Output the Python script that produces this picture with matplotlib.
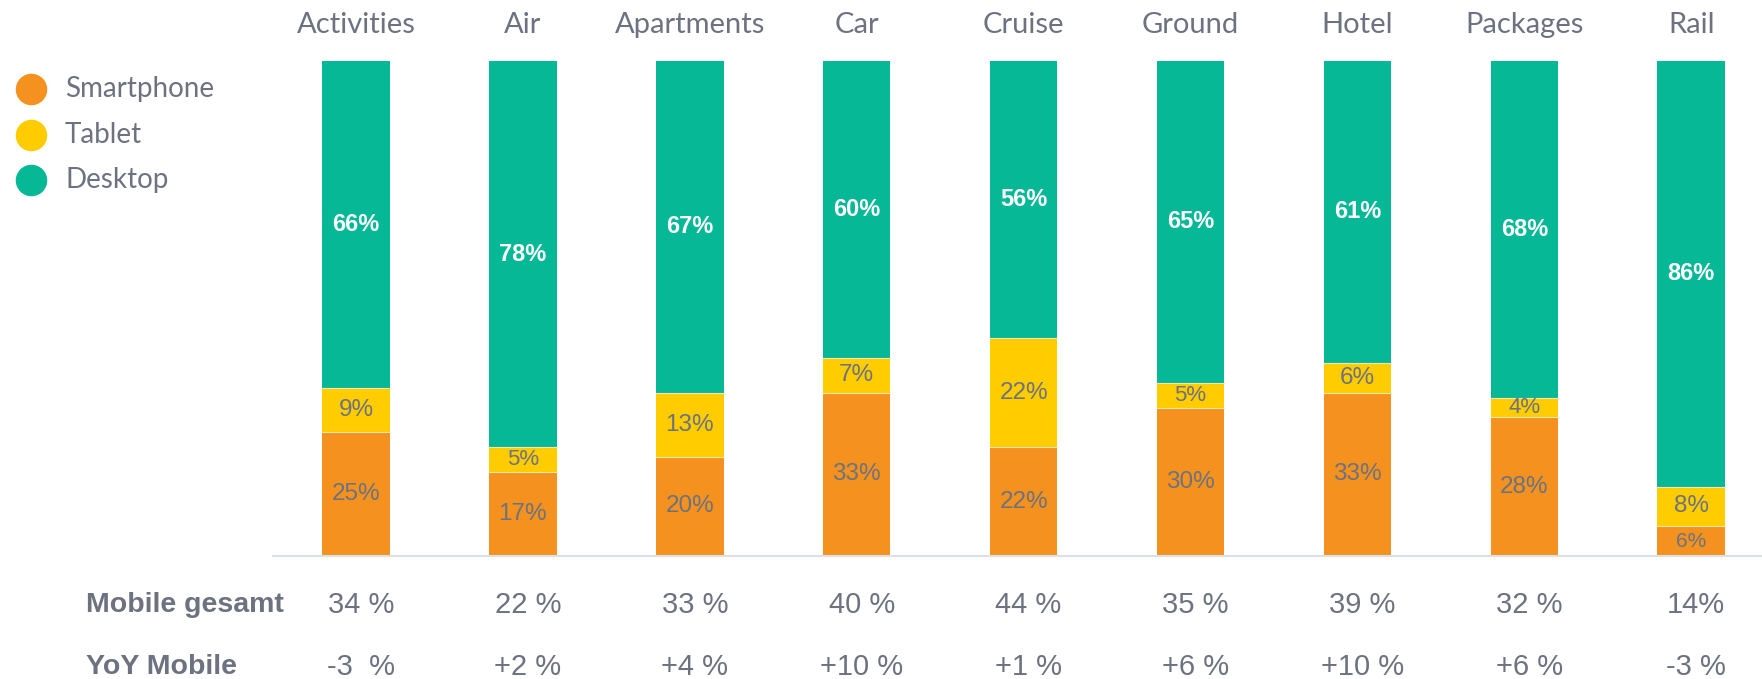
import numpy as np
import matplotlib
matplotlib.use('Agg')
import matplotlib.pyplot as plt

categories = ['Activities', 'Air', 'Apartments', 'Car', 'Cruise', 'Ground', 'Hotel', 'Packages', 'Rail']
smartphone = [25, 17, 20, 33, 22, 30, 33, 28, 6]
tablet = [9, 5, 13, 7, 22, 5, 6, 4, 8]
desktop = [66, 78, 67, 60, 56, 65, 61, 68, 86]
mobile_total = ['34 %', '22 %', '33 %', '40 %', '44 %', '35 %', '39 %', '32 %', '14%']
yoy_mobile = ['-3  %', '+2 %', '+4 %', '+10 %', '+1 %', '+6 %', '+10 %', '+6 %', '-3 %']
series_names = ['Smartphone', 'Tablet', 'Desktop']

c_orange = '#F5921F'
c_yellow = '#FFCC00'
c_green = '#06B896'
c_text = '#6C7280'
colors = [c_orange, c_yellow, c_green]

W, H = 1762, 679
fig = plt.figure(figsize=(W / 100, H / 100), dpi=100)
bottom_px, top_px = 556, 61
ax = fig.add_axes([0, (H - bottom_px) / H, 1, (bottom_px - top_px) / H])

x0, step = 356, 166.9   # pixel position of first bar centre, spacing
ax.set_xlim(-x0 / step, (W - x0) / step)
ax.set_ylim(0, 100)
ax.axis('off')

x = np.arange(len(categories))
bw = 0.404
sm = np.array(smartphone)
tb = np.array(tablet)
dk = np.array(desktop)
ax.bar(x, sm, bw, color=c_orange, edgecolor='none')
ax.bar(x, tb, bw, bottom=sm, color=c_yellow, edgecolor='none')
ax.bar(x, dk, bw, bottom=sm + tb, color=c_green, edgecolor='none')

# thin light lines between segments
for i in range(len(x)):
    for yv in (sm[i], sm[i] + tb[i]):
        ax.plot([i - bw / 2, i + bw / 2], [yv, yv], color='#f3e6b0', lw=0.8)

ax.axhline(0, xmin=273 / W, xmax=1, color='#dcdfe4', lw=1.5, clip_on=False)

num_font = ['Liberation Sans', 'DejaVu Sans']
title_font = ['Lato', 'DejaVu Sans']
for i in range(len(x)):
    ax.text(i, sm[i] / 2, f'{smartphone[i]}%', ha='center', va='center',
            fontsize=17.5 if smartphone[i] > 6 else 15, color=c_text, family=num_font)
    ax.text(i, sm[i] + tb[i] / 2, f'{tablet[i]}%', ha='center', va='center',
            fontsize=17.5 if tablet[i] > 5 else 16, color=c_text, family=num_font)
    ax.text(i, sm[i] + tb[i] + dk[i] / 2, f'{desktop[i]}%', ha='center', va='center',
            fontsize=17, color='white', fontweight='bold', family=num_font)
    ax.text(i, 107.2, categories[i], ha='center', va='center', fontsize=21,
            color=c_text, family=title_font, clip_on=False)
    ax.text(i + 0.03, -9.9, mobile_total[i], ha='center', va='center', fontsize=21,
            color=c_text, family=num_font, clip_on=False)
    ax.text(i + 0.03, -22.4, yoy_mobile[i], ha='center', va='center', fontsize=21,
            color=c_text, family=num_font, clip_on=False)

ax.text((86 - x0) / step, -9.9, 'Mobile gesamt', ha='left', va='center', fontsize=20.5,
        color=c_text, fontweight='bold', family=num_font, clip_on=False)
ax.text((86 - x0) / step, -22.4, 'YoY Mobile', ha='left', va='center', fontsize=20.5,
        color=c_text, fontweight='bold', family=num_font, clip_on=False)

# legend
leg_y = [94.3, 85.0, 75.9]
for name, col, yv in zip(series_names, colors, leg_y):
    ax.scatter([(31 - x0) / step], [yv], s=470, color=col, clip_on=False, zorder=3)
    ax.text((65 - x0) / step, yv, name, ha='left', va='center', fontsize=20,
            color=c_text, family=title_font, clip_on=False)

fig.savefig('out.png', dpi=100)
